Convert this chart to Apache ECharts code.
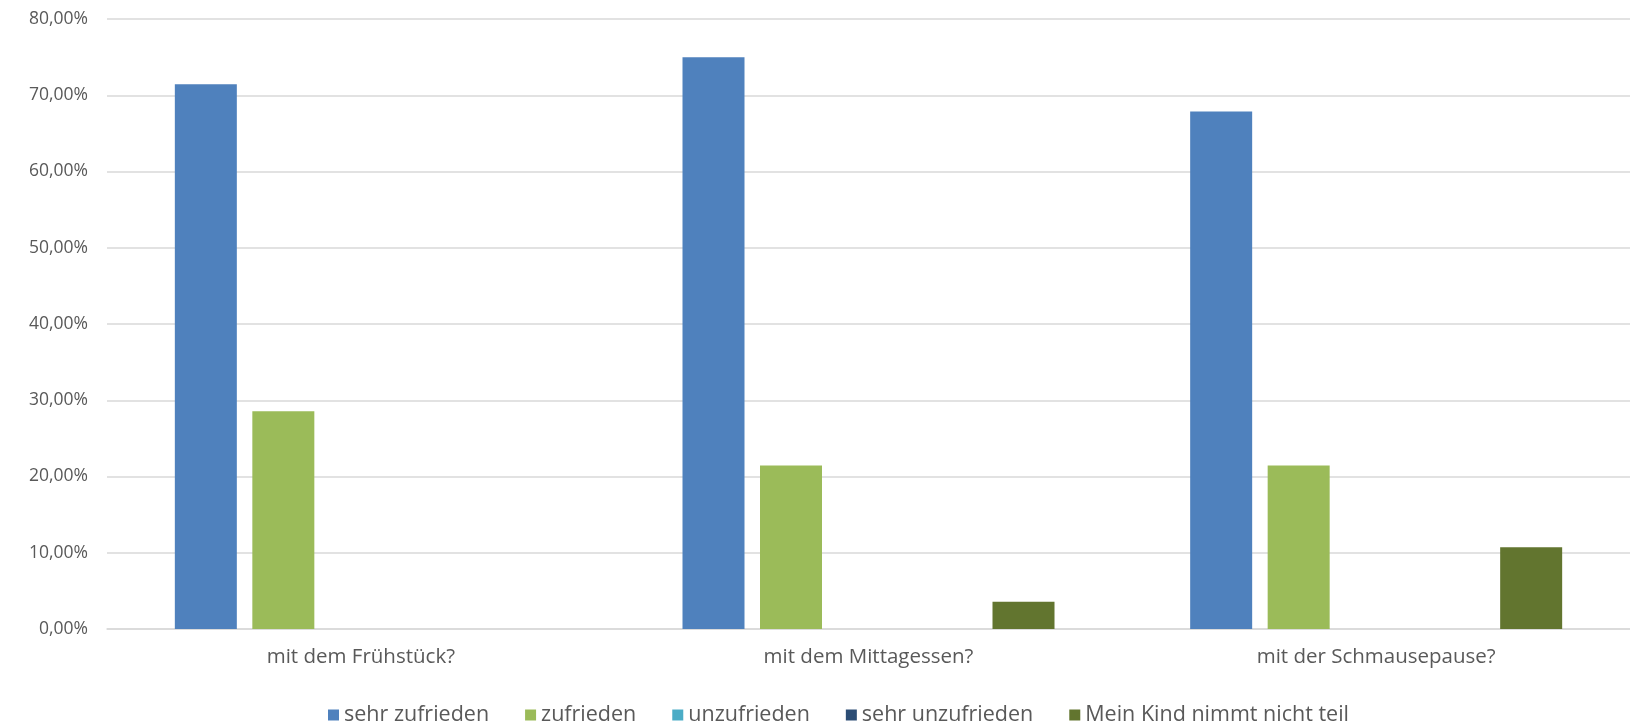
<!DOCTYPE html>
<html>
<head>
<meta charset="utf-8">
<script src="https://cdn.jsdelivr.net/npm/echarts@6/dist/echarts.min.js"></script>
<style>html,body{margin:0;padding:0;background:#fff}#c{width:1630px;height:727px}</style>
</head>
<body>
<div id="c"></div>
<script>
const categories = ['mit dem Frühstück?', 'mit dem Mittagessen?', 'mit der Schmausepause?'];
const seriesNames = ['sehr zufrieden', 'zufrieden', 'unzufrieden', 'sehr unzufrieden', 'Mein Kind nimmt nicht teil'];
const sehrZufrieden = [71.43, 75.00, 67.86];
const zufrieden = [28.57, 21.43, 21.43];
const unzufrieden = [0, 0, 0];
const sehrUnzufrieden = [0, 0, 0];
const nimmtNichtTeil = [0, 3.57, 10.71];
const colors = ['#4f81bd', '#9bbb59', '#4bacc6', '#2c4d75', '#62752f'];
const values = [sehrZufrieden, zufrieden, unzufrieden, sehrUnzufrieden, nimmtNichtTeil];

const font = 'Open Sans';
const chart = echarts.init(document.getElementById('c'), null, {renderer: 'canvas'});
chart.setOption({
  animation: false,
  color: colors,
  grid: {left: 107, right: 0, top: 19, bottom: 98, containLabel: false},
  legend: {
    top: 699, left: 323, itemWidth: 11, itemHeight: 11, itemGap: 36,
    icon: 'rect',
    textStyle: {fontFamily: font, fontSize: 21.5, color: '#595959'},
    data: seriesNames
  },
  xAxis: {
    type: 'category', data: categories,
    axisLine: {lineStyle: {color: '#d9d9d9', width: 1.5}},
    axisTick: {show: false},
    axisLabel: {fontFamily: font, fontSize: 20.5, color: '#595959', margin: 18}
  },
  yAxis: {
    type: 'value', min: 0, max: 80, interval: 10,
    axisLine: {show: false}, axisTick: {show: false},
    splitLine: {lineStyle: {color: '#d9d9d9', width: 1.5}},
    axisLabel: {fontFamily: font, fontSize: 17.5, color: '#595959', margin: 19,
      formatter: v => v.toFixed(2).replace('.', ',') + '%'}
  },
  series: seriesNames.map((n, i) => ({
    name: n, type: 'bar', data: values[i],
    barWidth: 62, barGap: '25%',
    itemStyle: {color: colors[i]}
  }))
});
</script>
</body>
</html>
